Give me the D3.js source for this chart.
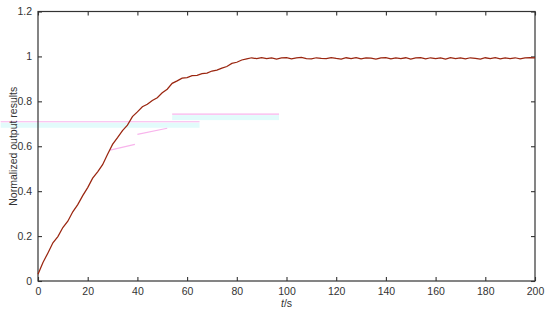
<!DOCTYPE html>
<html><head><meta charset="utf-8">
<script src="https://cdn.jsdelivr.net/npm/d3@7"></script>
<style>body{margin:0;background:#fff}svg{display:block}text{font-family:"Liberation Sans",Arial,sans-serif}</style>
</head><body><svg id="c" width="550" height="313"></svg>
<script>
// time points (s) and normalized output values
const times = d3.range(0, 201, 2);
const output = [
0.030,0.082,0.125,0.170,0.198,0.238,0.266,0.308,0.340,0.380,
0.416,0.458,0.486,0.518,0.564,0.608,0.638,0.670,0.694,0.732,
0.753,0.776,0.787,0.804,0.816,0.838,0.854,0.880,0.891,0.903,
0.906,0.914,0.916,0.923,0.926,0.935,0.939,0.948,0.955,0.969,
0.974,0.984,0.989,0.994,0.990,0.995,0.990,0.993,0.988,0.993,
0.995,0.989,0.993,0.996,0.990,0.989,0.994,0.991,0.990,0.995,
0.991,0.988,0.994,0.990,0.995,0.989,0.993,0.992,0.988,0.993,
0.995,0.989,0.993,0.990,0.994,0.988,0.993,0.995,0.989,0.994,
0.990,0.993,0.988,0.995,0.990,0.993,0.989,0.994,0.991,0.988,
0.994,0.990,0.995,0.989,0.993,0.990,0.994,0.989,0.993,0.995,0.993];
// faint overlay traces visible in the picture
const ghostA = {t:[-15, 65], y:[0.709, 0.709]};
const ghostB = {t:[54, 97], y:[0.743, 0.743]};
const ghostC = {t:[29, 39], y:[0.583, 0.608]};
const ghostD = {t:[40, 52], y:[0.653, 0.680]};
const xTicks = [0,20,40,60,80,100,120,140,160,180,200];
const yTicks = [0,0.2,0.4,0.6,0.8,1,1.2];

const svg = d3.select("#c");
const L=38, R=535, T=11.5, B=281;
const x = d3.scaleLinear().domain([0,200]).range([L,R]);
const y = d3.scaleLinear().domain([0,1.2]).range([B,T]);

const gl = d3.line().x(d=>d[0]).y(d=>d[1]);
function ghost(g, band){
  const pts = g.t.map((t,i)=>[Math.max(0,x(t)), y(g.y[i])]);
  if(band){
    svg.append("rect").attr("x",pts[0][0]).attr("y",pts[0][1]+1).attr("width",pts[1][0]-pts[0][0]).attr("height",5).attr("fill","#e2fbfb");
  }
  svg.append("path").attr("d",gl(pts)).attr("fill","none").attr("stroke","#f8b4ec").attr("stroke-width",1.2);
}
ghost(ghostA,true); ghost(ghostB,true); ghost(ghostC,false); ghost(ghostD,false);

svg.append("rect").attr("x",L).attr("y",T).attr("width",R-L).attr("height",B-T).attr("fill","none").attr("stroke","#333").attr("stroke-width",1.2);

const xa = svg.append("g").attr("transform",`translate(0,${B})`).call(d3.axisBottom(x).tickValues(xTicks).tickSizeInner(-4).tickSizeOuter(0).tickPadding(7));
const xt = svg.append("g").attr("transform",`translate(0,${T})`).call(d3.axisTop(x).tickValues(xTicks).tickSizeInner(-4).tickSizeOuter(0).tickFormat(""));
const ya = svg.append("g").attr("transform",`translate(${L},0)`).call(d3.axisLeft(y).tickValues(yTicks).tickSizeInner(-4).tickSizeOuter(0).tickPadding(6).tickFormat(d3.format("~g")));
const yr = svg.append("g").attr("transform",`translate(${R},0)`).call(d3.axisRight(y).tickValues(yTicks).tickSizeInner(-4).tickSizeOuter(0).tickFormat(""));
[xa,xt,ya,yr].forEach(g=>{g.select(".domain").remove();g.selectAll("line").attr("stroke","#333").attr("stroke-width",1.1);g.selectAll("text").attr("fill","#333").style("font-size","10.5px");});

const line = d3.line().x((d,i)=>x(times[i])).y(d=>y(d));
svg.append("path").datum(output).attr("d",line).attr("fill","none").attr("stroke","#9a2610").attr("stroke-width",1.25);

svg.append("text").attr("transform",`translate(17,${(T+B)/2}) rotate(-90)`).attr("text-anchor","middle").attr("fill","#333").style("font-size","10.5px").text("Normalized output results");
const xl = svg.append("text").attr("x",(L+R)/2).attr("y",307).attr("text-anchor","middle").attr("fill","#333").style("font-size","10.5px");
xl.append("tspan").style("font-style","italic").text("t");
xl.append("tspan").text("/s");
</script></body></html>
